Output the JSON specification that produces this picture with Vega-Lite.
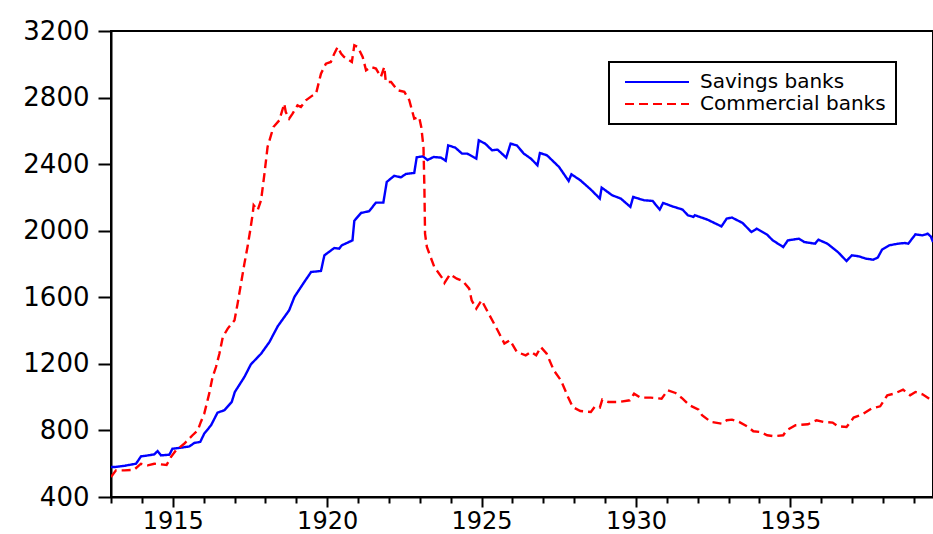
{
  "$schema": "https://vega.github.io/schema/vega-lite/v6.json",
  "width": 822,
  "height": 466,
  "autosize": "none",
  "padding": {"left": 111, "top": 31, "right": 0, "bottom": 37},
  "background": "white",
  "config": {
    "view": {"stroke": "black", "strokeWidth": 2},
    "font": "DejaVu Sans"
  },
  "data": {"values": [
{"s":"Savings banks","t":1913.00,"v":580},{"s":"Savings banks","t":1913.11,"v":580},{"s":"Savings banks","t":1913.45,"v":588},{"s":"Savings banks","t":1913.81,"v":600},{"s":"Savings banks","t":1913.97,"v":644},{"s":"Savings banks","t":1914.20,"v":650},{"s":"Savings banks","t":1914.40,"v":656},{"s":"Savings banks","t":1914.51,"v":676},{"s":"Savings banks","t":1914.62,"v":650},{"s":"Savings banks","t":1914.89,"v":654},{"s":"Savings banks","t":1914.99,"v":690},{"s":"Savings banks","t":1915.30,"v":697},{"s":"Savings banks","t":1915.54,"v":704},{"s":"Savings banks","t":1915.70,"v":725},{"s":"Savings banks","t":1915.89,"v":731},{"s":"Savings banks","t":1916.02,"v":781},{"s":"Savings banks","t":1916.24,"v":831},{"s":"Savings banks","t":1916.45,"v":907},{"s":"Savings banks","t":1916.67,"v":921},{"s":"Savings banks","t":1916.91,"v":971},{"s":"Savings banks","t":1917.01,"v":1031},{"s":"Savings banks","t":1917.32,"v":1121},{"s":"Savings banks","t":1917.53,"v":1197},{"s":"Savings banks","t":1917.86,"v":1261},{"s":"Savings banks","t":1918.13,"v":1331},{"s":"Savings banks","t":1918.40,"v":1426},{"s":"Savings banks","t":1918.77,"v":1522},{"s":"Savings banks","t":1918.94,"v":1602},{"s":"Savings banks","t":1919.26,"v":1692},{"s":"Savings banks","t":1919.48,"v":1752},{"s":"Savings banks","t":1919.80,"v":1758},{"s":"Savings banks","t":1919.91,"v":1852},{"s":"Savings banks","t":1920.23,"v":1896},{"s":"Savings banks","t":1920.39,"v":1892},{"s":"Savings banks","t":1920.47,"v":1912},{"s":"Savings banks","t":1920.82,"v":1942},{"s":"Savings banks","t":1920.88,"v":2060},{"s":"Savings banks","t":1921.10,"v":2107},{"s":"Savings banks","t":1921.36,"v":2117},{"s":"Savings banks","t":1921.58,"v":2169},{"s":"Savings banks","t":1921.82,"v":2169},{"s":"Savings banks","t":1921.93,"v":2293},{"s":"Savings banks","t":1922.17,"v":2330},{"s":"Savings banks","t":1922.39,"v":2321},{"s":"Savings banks","t":1922.55,"v":2341},{"s":"Savings banks","t":1922.82,"v":2347},{"s":"Savings banks","t":1922.90,"v":2441},{"s":"Savings banks","t":1923.10,"v":2447},{"s":"Savings banks","t":1923.25,"v":2425},{"s":"Savings banks","t":1923.45,"v":2443},{"s":"Savings banks","t":1923.69,"v":2439},{"s":"Savings banks","t":1923.84,"v":2420},{"s":"Savings banks","t":1923.92,"v":2513},{"s":"Savings banks","t":1924.15,"v":2499},{"s":"Savings banks","t":1924.37,"v":2463},{"s":"Savings banks","t":1924.54,"v":2463},{"s":"Savings banks","t":1924.83,"v":2433},{"s":"Savings banks","t":1924.91,"v":2543},{"s":"Savings banks","t":1925.12,"v":2523},{"s":"Savings banks","t":1925.34,"v":2483},{"s":"Savings banks","t":1925.52,"v":2487},{"s":"Savings banks","t":1925.80,"v":2439},{"s":"Savings banks","t":1925.94,"v":2523},{"s":"Savings banks","t":1926.14,"v":2513},{"s":"Savings banks","t":1926.37,"v":2463},{"s":"Savings banks","t":1926.60,"v":2433},{"s":"Savings banks","t":1926.81,"v":2393},{"s":"Savings banks","t":1926.89,"v":2467},{"s":"Savings banks","t":1927.12,"v":2453},{"s":"Savings banks","t":1927.51,"v":2383},{"s":"Savings banks","t":1927.82,"v":2299},{"s":"Savings banks","t":1927.91,"v":2339},{"s":"Savings banks","t":1928.20,"v":2303},{"s":"Savings banks","t":1928.54,"v":2247},{"s":"Savings banks","t":1928.83,"v":2193},{"s":"Savings banks","t":1928.89,"v":2259},{"s":"Savings banks","t":1929.23,"v":2213},{"s":"Savings banks","t":1929.51,"v":2193},{"s":"Savings banks","t":1929.82,"v":2143},{"s":"Savings banks","t":1929.91,"v":2203},{"s":"Savings banks","t":1930.26,"v":2183},{"s":"Savings banks","t":1930.54,"v":2179},{"s":"Savings banks","t":1930.77,"v":2127},{"s":"Savings banks","t":1930.88,"v":2167},{"s":"Savings banks","t":1931.17,"v":2147},{"s":"Savings banks","t":1931.51,"v":2127},{"s":"Savings banks","t":1931.68,"v":2093},{"s":"Savings banks","t":1931.86,"v":2083},{"s":"Savings banks","t":1931.91,"v":2093},{"s":"Savings banks","t":1932.31,"v":2067},{"s":"Savings banks","t":1932.77,"v":2026},{"s":"Savings banks","t":1932.94,"v":2073},{"s":"Savings banks","t":1933.11,"v":2079},{"s":"Savings banks","t":1933.45,"v":2047},{"s":"Savings banks","t":1933.74,"v":1992},{"s":"Savings banks","t":1933.91,"v":2012},{"s":"Savings banks","t":1934.25,"v":1976},{"s":"Savings banks","t":1934.43,"v":1942},{"s":"Savings banks","t":1934.77,"v":1902},{"s":"Savings banks","t":1934.92,"v":1942},{"s":"Savings banks","t":1935.28,"v":1952},{"s":"Savings banks","t":1935.45,"v":1932},{"s":"Savings banks","t":1935.80,"v":1922},{"s":"Savings banks","t":1935.91,"v":1946},{"s":"Savings banks","t":1936.20,"v":1922},{"s":"Savings banks","t":1936.54,"v":1872},{"s":"Savings banks","t":1936.82,"v":1818},{"s":"Savings banks","t":1936.99,"v":1852},{"s":"Savings banks","t":1937.22,"v":1846},{"s":"Savings banks","t":1937.45,"v":1832},{"s":"Savings banks","t":1937.68,"v":1826},{"s":"Savings banks","t":1937.83,"v":1838},{"s":"Savings banks","t":1937.97,"v":1886},{"s":"Savings banks","t":1938.20,"v":1912},{"s":"Savings banks","t":1938.48,"v":1922},{"s":"Savings banks","t":1938.71,"v":1926},{"s":"Savings banks","t":1938.82,"v":1922},{"s":"Savings banks","t":1939.05,"v":1978},{"s":"Savings banks","t":1939.28,"v":1972},{"s":"Savings banks","t":1939.45,"v":1982},{"s":"Savings banks","t":1939.55,"v":1965},{"s":"Savings banks","t":1939.62,"v":1932},
{"s":"Commercial banks","t":1913.00,"v":520},{"s":"Commercial banks","t":1913.16,"v":560},{"s":"Commercial banks","t":1913.43,"v":560},{"s":"Commercial banks","t":1913.75,"v":564},{"s":"Commercial banks","t":1913.97,"v":600},{"s":"Commercial banks","t":1914.19,"v":590},{"s":"Commercial banks","t":1914.40,"v":600},{"s":"Commercial banks","t":1914.62,"v":596},{"s":"Commercial banks","t":1914.80,"v":592},{"s":"Commercial banks","t":1914.94,"v":640},{"s":"Commercial banks","t":1915.10,"v":680},{"s":"Commercial banks","t":1915.37,"v":720},{"s":"Commercial banks","t":1915.64,"v":771},{"s":"Commercial banks","t":1915.81,"v":801},{"s":"Commercial banks","t":1915.91,"v":851},{"s":"Commercial banks","t":1916.02,"v":901},{"s":"Commercial banks","t":1916.18,"v":1021},{"s":"Commercial banks","t":1916.29,"v":1121},{"s":"Commercial banks","t":1916.40,"v":1181},{"s":"Commercial banks","t":1916.51,"v":1261},{"s":"Commercial banks","t":1916.62,"v":1361},{"s":"Commercial banks","t":1916.78,"v":1412},{"s":"Commercial banks","t":1917.00,"v":1462},{"s":"Commercial banks","t":1917.10,"v":1562},{"s":"Commercial banks","t":1917.21,"v":1682},{"s":"Commercial banks","t":1917.32,"v":1802},{"s":"Commercial banks","t":1917.42,"v":1902},{"s":"Commercial banks","t":1917.50,"v":1992},{"s":"Commercial banks","t":1917.59,"v":2103},{"s":"Commercial banks","t":1917.62,"v":2153},{"s":"Commercial banks","t":1917.75,"v":2123},{"s":"Commercial banks","t":1917.86,"v":2183},{"s":"Commercial banks","t":1917.97,"v":2343},{"s":"Commercial banks","t":1918.07,"v":2503},{"s":"Commercial banks","t":1918.26,"v":2623},{"s":"Commercial banks","t":1918.45,"v":2663},{"s":"Commercial banks","t":1918.61,"v":2763},{"s":"Commercial banks","t":1918.66,"v":2713},{"s":"Commercial banks","t":1918.77,"v":2673},{"s":"Commercial banks","t":1918.88,"v":2703},{"s":"Commercial banks","t":1919.04,"v":2753},{"s":"Commercial banks","t":1919.15,"v":2743},{"s":"Commercial banks","t":1919.31,"v":2783},{"s":"Commercial banks","t":1919.53,"v":2813},{"s":"Commercial banks","t":1919.64,"v":2823},{"s":"Commercial banks","t":1919.80,"v":2944},{"s":"Commercial banks","t":1919.96,"v":3004},{"s":"Commercial banks","t":1920.12,"v":3014},{"s":"Commercial banks","t":1920.23,"v":3064},{"s":"Commercial banks","t":1920.34,"v":3104},{"s":"Commercial banks","t":1920.45,"v":3064},{"s":"Commercial banks","t":1920.55,"v":3044},{"s":"Commercial banks","t":1920.80,"v":3014},{"s":"Commercial banks","t":1920.88,"v":3114},{"s":"Commercial banks","t":1920.99,"v":3104},{"s":"Commercial banks","t":1921.15,"v":3044},{"s":"Commercial banks","t":1921.26,"v":2964},{"s":"Commercial banks","t":1921.42,"v":2984},{"s":"Commercial banks","t":1921.58,"v":2974},{"s":"Commercial banks","t":1921.74,"v":2924},{"s":"Commercial banks","t":1921.85,"v":2984},{"s":"Commercial banks","t":1921.90,"v":2894},{"s":"Commercial banks","t":1922.07,"v":2894},{"s":"Commercial banks","t":1922.28,"v":2844},{"s":"Commercial banks","t":1922.50,"v":2834},{"s":"Commercial banks","t":1922.66,"v":2784},{"s":"Commercial banks","t":1922.82,"v":2673},{"s":"Commercial banks","t":1922.98,"v":2683},{"s":"Commercial banks","t":1923.05,"v":2620},{"s":"Commercial banks","t":1923.12,"v":2500},{"s":"Commercial banks","t":1923.15,"v":2250},{"s":"Commercial banks","t":1923.17,"v":1982},{"s":"Commercial banks","t":1923.23,"v":1902},{"s":"Commercial banks","t":1923.47,"v":1782},{"s":"Commercial banks","t":1923.74,"v":1712},{"s":"Commercial banks","t":1923.80,"v":1686},{"s":"Commercial banks","t":1923.98,"v":1738},{"s":"Commercial banks","t":1924.20,"v":1712},{"s":"Commercial banks","t":1924.39,"v":1698},{"s":"Commercial banks","t":1924.60,"v":1652},{"s":"Commercial banks","t":1924.68,"v":1582},{"s":"Commercial banks","t":1924.83,"v":1532},{"s":"Commercial banks","t":1925.00,"v":1582},{"s":"Commercial banks","t":1925.23,"v":1502},{"s":"Commercial banks","t":1925.52,"v":1402},{"s":"Commercial banks","t":1925.74,"v":1322},{"s":"Commercial banks","t":1925.92,"v":1342},{"s":"Commercial banks","t":1926.14,"v":1272},{"s":"Commercial banks","t":1926.43,"v":1251},{"s":"Commercial banks","t":1926.60,"v":1272},{"s":"Commercial banks","t":1926.77,"v":1251},{"s":"Commercial banks","t":1926.92,"v":1301},{"s":"Commercial banks","t":1927.11,"v":1261},{"s":"Commercial banks","t":1927.34,"v":1161},{"s":"Commercial banks","t":1927.57,"v":1101},{"s":"Commercial banks","t":1927.80,"v":1001},{"s":"Commercial banks","t":1927.95,"v":941},{"s":"Commercial banks","t":1928.20,"v":917},{"s":"Commercial banks","t":1928.54,"v":911},{"s":"Commercial banks","t":1928.66,"v":941},{"s":"Commercial banks","t":1928.83,"v":937},{"s":"Commercial banks","t":1928.91,"v":985},{"s":"Commercial banks","t":1929.11,"v":971},{"s":"Commercial banks","t":1929.45,"v":971},{"s":"Commercial banks","t":1929.80,"v":981},{"s":"Commercial banks","t":1929.94,"v":1021},{"s":"Commercial banks","t":1930.14,"v":997},{"s":"Commercial banks","t":1930.48,"v":997},{"s":"Commercial banks","t":1930.83,"v":991},{"s":"Commercial banks","t":1931.03,"v":1041},{"s":"Commercial banks","t":1931.28,"v":1025},{"s":"Commercial banks","t":1931.51,"v":991},{"s":"Commercial banks","t":1931.74,"v":951},{"s":"Commercial banks","t":1932.03,"v":925},{"s":"Commercial banks","t":1932.14,"v":891},{"s":"Commercial banks","t":1932.43,"v":851},{"s":"Commercial banks","t":1932.77,"v":841},{"s":"Commercial banks","t":1932.94,"v":861},{"s":"Commercial banks","t":1933.11,"v":865},{"s":"Commercial banks","t":1933.34,"v":851},{"s":"Commercial banks","t":1933.63,"v":821},{"s":"Commercial banks","t":1933.80,"v":795},{"s":"Commercial banks","t":1934.02,"v":791},{"s":"Commercial banks","t":1934.25,"v":771},{"s":"Commercial banks","t":1934.48,"v":765},{"s":"Commercial banks","t":1934.77,"v":771},{"s":"Commercial banks","t":1934.88,"v":801},{"s":"Commercial banks","t":1935.17,"v":831},{"s":"Commercial banks","t":1935.57,"v":837},{"s":"Commercial banks","t":1935.85,"v":861},{"s":"Commercial banks","t":1936.08,"v":851},{"s":"Commercial banks","t":1936.37,"v":847},{"s":"Commercial banks","t":1936.54,"v":825},{"s":"Commercial banks","t":1936.82,"v":821},{"s":"Commercial banks","t":1937.05,"v":877},{"s":"Commercial banks","t":1937.34,"v":897},{"s":"Commercial banks","t":1937.62,"v":931},{"s":"Commercial banks","t":1937.91,"v":945},{"s":"Commercial banks","t":1938.14,"v":1011},{"s":"Commercial banks","t":1938.37,"v":1021},{"s":"Commercial banks","t":1938.65,"v":1045},{"s":"Commercial banks","t":1938.88,"v":1011},{"s":"Commercial banks","t":1939.05,"v":1031},{"s":"Commercial banks","t":1939.28,"v":1017},{"s":"Commercial banks","t":1939.45,"v":997},{"s":"Commercial banks","t":1939.62,"v":971}
  ]},
  "mark": {"type": "line", "strokeWidth": 2.4, "clip": true},
  "encoding": {
    "x": {
      "field": "t", "type": "quantitative",
      "scale": {"domain": [1913, 1939.62], "nice": false, "zero": false},
      "axis": {
        "title": null, "grid": false,
        "values": [1913,1914,1915,1916,1917,1918,1919,1920,1921,1922,1923,1924,1925,1926,1927,1928,1929,1930,1931,1932,1933,1934,1935,1936,1937,1938,1939],
        "labelExpr": "datum.value % 5 === 0 ? datum.value : ''",
        "format": "d",
        "domainColor": "black", "domainWidth": 2,
        "tickColor": "black", "tickWidth": 2,
        "tickSize": {"condition": {"test": "datum.value % 5 === 0", "value": 10}, "value": 6},
        "labelFontSize": 24, "labelColor": "black", "labelPadding": 2,
        "labelFont": "DejaVu Sans"
      }
    },
    "y": {
      "field": "v", "type": "quantitative",
      "scale": {"domain": [400, 3200], "nice": false, "zero": false},
      "axis": {
        "title": null, "grid": false,
        "values": [400,800,1200,1600,2000,2400,2800,3200],
        "format": "d",
        "domainColor": "black", "domainWidth": 2,
        "tickColor": "black", "tickWidth": 2, "tickSize": 13,
        "labelFontSize": 26, "labelColor": "black", "labelPadding": 9,
        "labelFont": "DejaVu Sans"
      }
    },
    "color": {
      "field": "s", "type": "nominal",
      "scale": {"domain": ["Savings banks", "Commercial banks"], "range": ["#0000ff", "#ff0000"]},
      "legend": {
        "title": null, "orient": "none", "legendX": 498, "legendY": 31,
        "strokeColor": "black", "fillColor": "white",
        "padding": 10, "symbolType": "M-0.5,0H7.5", "symbolSize": 256, "symbolStrokeWidth": 2,
        "labelFontSize": 20, "labelColor": "black", "labelFont": "DejaVu Sans", "labelOffset": 61,
        "labelLimit": 400, "rowPadding": 2,
        "encode": {"legend": {"update": {"strokeWidth": {"value": 2}}}}
      }
    },
    "strokeDash": {
      "field": "s", "type": "nominal",
      "scale": {"domain": ["Savings banks", "Commercial banks"], "range": [[1, 0], [9, 5]]}
    }
  }
}
